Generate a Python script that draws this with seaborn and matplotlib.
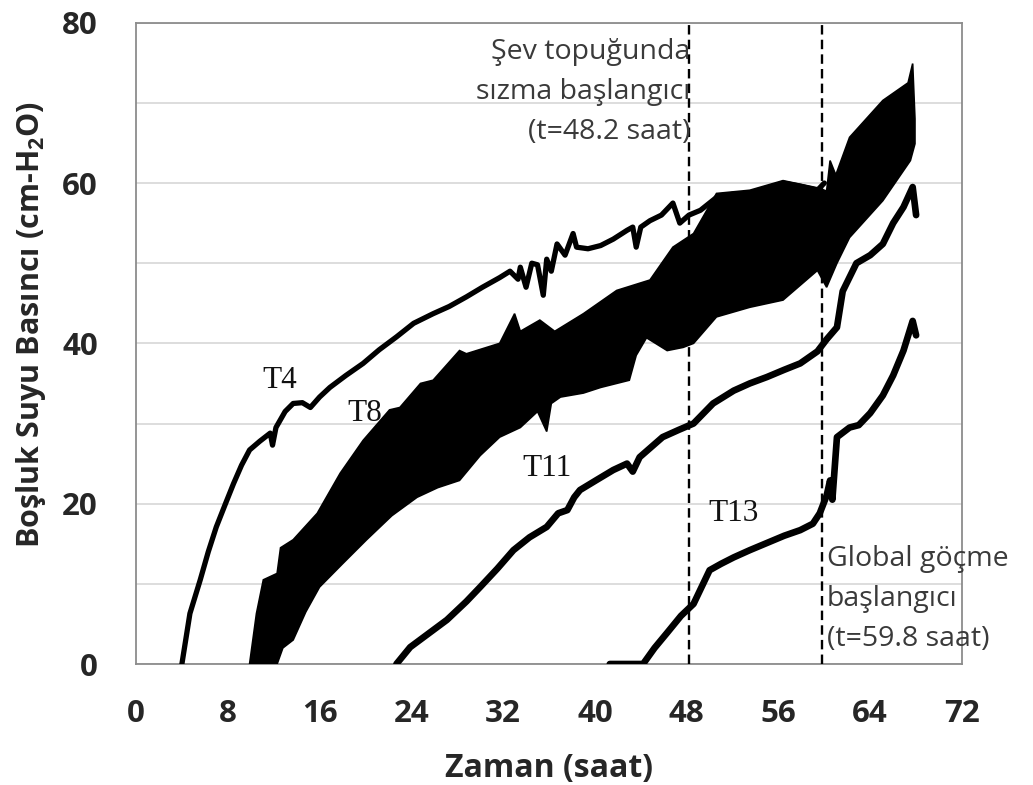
import numpy as np
import matplotlib
matplotlib.use("Agg")
import matplotlib.pyplot as plt
import seaborn as sns
from matplotlib.ticker import MultipleLocator

# ---------------- data ----------------
t4_x = [4.0, 4.7, 5.6, 6.3, 7.0, 7.8, 8.5, 9.2, 9.9, 10.8, 11.7, 11.9, 12.2, 13.0,
        13.7, 14.5, 15.2, 16.0, 16.9, 18.3, 19.8, 21.2, 22.7, 24.2, 25.9, 27.3,
        28.8, 30.2, 31.7, 32.6, 33.3, 33.5, 34.0, 34.5, 35.0, 35.5, 35.8, 36.2,
        36.7, 37.4, 38.1, 38.4, 39.4, 40.5, 41.6, 42.8, 43.3, 43.6, 44.0, 44.8,
        45.8, 46.8, 47.4, 48.2, 49.2, 50.6, 52.0, 53.5, 55.0, 56.4, 57.9, 59.4, 60.0]
t4_y = [0.0, 6.3, 10.5, 14.0, 17.1, 20.0, 22.5, 24.8, 26.7, 27.8, 28.8, 27.3, 29.5, 31.5,
        32.5, 32.6, 32.0, 33.3, 34.5, 36.0, 37.5, 39.2, 40.8, 42.5, 43.7, 44.6,
        45.8, 47.0, 48.2, 49.0, 48.0, 49.5, 47.0, 50.0, 49.8, 46.0, 50.5, 49.0,
        52.4, 51.0, 53.7, 52.0, 51.8, 52.2, 53.0, 54.1, 54.5, 52.0, 54.5, 55.3,
        56.0, 57.5, 55.0, 56.0, 56.6, 58.2, 58.6, 58.7, 59.2, 60.0, 59.6, 59.1, 60.0]

t8_up_x = [9.9, 10.5, 11.1, 12.3, 12.6, 13.7, 15.8, 17.8, 19.8, 22.1, 23.0, 24.8,
           25.9, 28.2, 28.8, 31.7, 33.0, 33.5, 35.2, 36.5, 39.0, 41.9, 44.8, 46.8,
           48.6, 50.6, 53.5, 56.4, 59.4, 60.2, 60.5, 61.0, 62.2, 65.1, 67.3, 67.7, 67.9]
t8_up_y = [0.0, 6.3, 10.5, 11.3, 14.5, 15.5, 18.8, 23.8, 27.9, 31.7, 32.0, 35.0,
           35.4, 39.1, 38.7, 40.0, 43.7, 41.5, 42.9, 41.5, 43.7, 46.6, 47.9, 52.0,
           53.7, 58.7, 59.1, 60.3, 59.4, 59.0, 62.8, 61.0, 65.7, 70.3, 72.5, 74.9, 68.0]
t8_lo_x = [9.9, 12.3, 12.8, 13.7, 14.8, 16.0, 18.0, 20.1, 22.3, 24.5, 26.3, 28.2,
           30.0, 31.7, 33.5, 35.0, 35.8, 36.2, 37.0, 39.0, 40.5, 43.0, 43.6, 44.5,
           46.3, 47.7, 48.6, 50.6, 53.5, 56.4, 59.4, 60.2, 61.1, 62.2, 65.1, 67.5, 67.9]
t8_lo_y = [0.0, 0.0, 2.0, 3.0, 6.5, 9.6, 12.5, 15.5, 18.5, 20.8, 22.0, 22.9,
           26.0, 28.3, 29.5, 31.5, 29.0, 32.5, 33.3, 33.8, 34.5, 35.4, 38.5, 40.7,
           39.1, 39.5, 40.0, 43.3, 44.5, 45.4, 49.1, 47.0, 50.0, 53.2, 57.8, 62.8, 64.9]

t11_x = [22.7, 23.9, 25.5, 27.1, 28.8, 30.0, 31.5, 32.9, 34.3, 35.8, 36.8, 37.6,
         38.2, 38.7, 40.2, 41.6, 42.8, 43.3, 43.9, 45.9, 47.3, 48.6, 50.3, 52.1,
         53.5, 55.0, 56.5, 57.9, 59.4, 60.2, 61.1, 61.6, 62.8, 64.0, 65.1, 66.0,
         66.9, 67.7, 68.0]
t11_y = [0.0, 2.1, 3.8, 5.5, 7.8, 9.6, 11.9, 14.2, 15.8, 17.1, 18.8, 19.2,
         20.8, 21.7, 23.0, 24.2, 25.0, 24.0, 25.8, 28.3, 29.2, 30.0, 32.5, 34.1,
         35.0, 35.8, 36.7, 37.5, 39.0, 40.5, 42.0, 46.5, 50.0, 51.0, 52.4, 55.0,
         57.0, 59.5, 56.0]

t13_x = [41.3, 44.2, 45.2, 46.3, 47.5, 48.6, 50.0, 51.0, 52.1, 53.5, 55.0, 56.5,
         57.9, 59.0, 59.6, 60.2, 60.5, 60.7, 61.1, 62.2, 63.0, 64.0, 65.1, 66.0,
         66.9, 67.7, 68.0]
t13_y = [0.0, 0.0, 2.0, 3.9, 6.0, 7.5, 11.7, 12.5, 13.3, 14.2, 15.1, 16.0,
         16.7, 17.5, 18.8, 21.0, 22.9, 20.5, 28.3, 29.5, 29.8, 31.3, 33.5, 36.0,
         39.1, 42.8, 41.0]

event_times = [48.2, 59.8]
x_ticks = list(range(0, 73, 8))
y_ticks = list(range(0, 81, 20))
y_minor = [10, 30, 50, 70]

series_labels = ["T4", "T8", "T11", "T13"]
label_pos_x = [12.55, 19.9, 35.8, 52.05]
label_pos_y = [35.4, 31.3, 24.4, 18.8]

note1 = ["Şev topuğunda", "sızma başlangıcı", "(t=48.2 saat)"]
note2 = ["Global göçme", "başlangıcı", "(t=59.8 saat)"]

# ---------------- style ----------------
sns.set_style("white")
plt.rcParams["font.family"] = ["Open Sans", "DejaVu Sans"]
plt.rcParams["mathtext.fontset"] = "custom"
plt.rcParams["mathtext.rm"] = "Open Sans"
plt.rcParams["mathtext.bf"] = "Open Sans:bold"

fig = plt.figure(figsize=(10.33, 7.85), dpi=100)
ax = fig.add_axes([0.13166, 0.15414, 0.79961, 0.81694])

grey = "#8c8c8c"
ax.set_xlim(0, 72)
ax.set_ylim(0, 80)
ax.set_yticks(y_minor, minor=True)
ax.grid(axis="y", which="both", color="#dadada", lw=1.3, zorder=0)
ax.set_axisbelow(True)

# T8 noisy band
ax.fill(np.r_[t8_up_x, t8_lo_x[::-1]], np.r_[t8_up_y, t8_lo_y[::-1]],
        color="black", lw=1.2, zorder=3)

sns.lineplot(x=t4_x, y=t4_y, ax=ax, color="black", lw=3.8, sort=False,
             estimator=None, zorder=4)
sns.lineplot(x=t11_x, y=t11_y, ax=ax, color="black", lw=4.8, sort=False,
             estimator=None, zorder=4)
sns.lineplot(x=t13_x, y=t13_y, ax=ax, color="black", lw=4.8, sort=False,
             estimator=None, zorder=4)

for t in event_times:
    ax.axvline(t, color="black", lw=1.7, ls=(0, (4, 2.2)), zorder=5)

for lab, lx, ly in zip(series_labels, label_pos_x, label_pos_y):
    ax.text(lx, ly, lab, fontsize=22.5, family="Liberation Serif", color="#111111",
            ha="center", va="center", zorder=6)

note_c = "#3a3a3a"
for i, line in enumerate(note1):
    ax.text(48.3, 76.4 - 5.0 * i, line, fontsize=20.5, color=note_c,
            ha="right", va="center", zorder=6)
for i, line in enumerate(note2):
    ax.text(60.2, 13.1 - 5.0 * i, line, fontsize=20.5, color=note_c,
            ha="left", va="center", zorder=6)

ax.set_xticks(x_ticks)
ax.set_yticks(y_ticks)
ax.xaxis.set_minor_locator(MultipleLocator(2))

for s in ax.spines.values():
    s.set_color(grey)
    s.set_linewidth(1.3)

ax.tick_params(axis="x", which="major", direction="out", length=10, width=1.3,
               color=grey, pad=15, labelsize=22.5)
ax.tick_params(axis="x", which="minor", direction="in", length=6.5, width=1.3,
               color=grey)
ax.tick_params(axis="y", which="major", direction="inout", length=17, width=1.3,
               color=grey, pad=19, labelsize=22.5)
ax.tick_params(axis="y", which="minor", direction="in", length=8, width=1.3,
               color=grey)
for lab in ax.get_xticklabels() + ax.get_yticklabels():
    lab.set_fontweight("bold")

ax.set_xlabel("Zaman (saat)", fontsize=23, fontweight="bold")
ax.set_ylabel(r"Boşluk Suyu Basıncı (cm-H$_{\mathbf{2}}$O)", fontsize=22,
              fontweight="bold")
ax.xaxis.set_label_coords(0.5, -0.138)
ax.yaxis.set_label_coords(-0.107, 0.529)
ax.xaxis.label.set_va("top")

fig.savefig("out.png", dpi=100)
